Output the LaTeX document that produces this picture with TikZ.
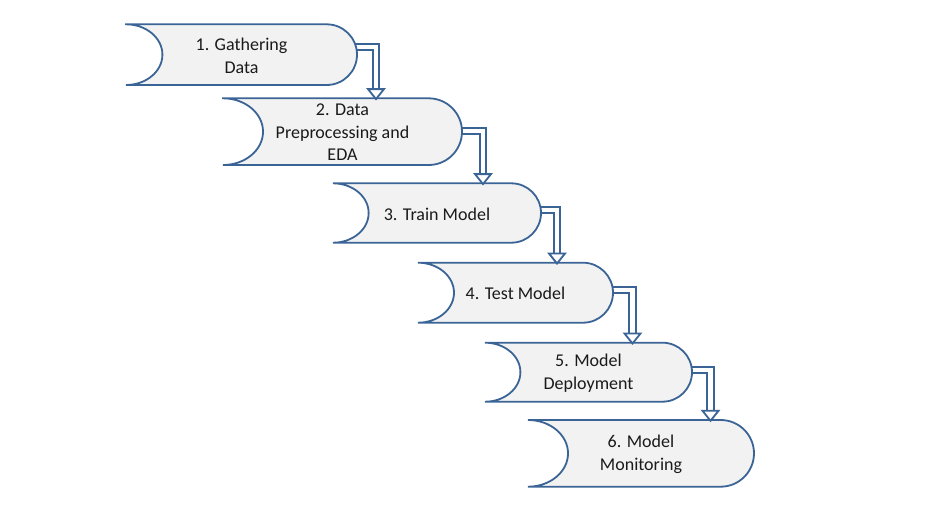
\documentclass[tikz,border=0pt]{standalone}
\usepackage{fontspec}
\setmainfont{Carlito}
\usetikzlibrary{backgrounds,calc}
\definecolor{edge}{HTML}{3B6496}
\definecolor{boxfill}{HTML}{F2F2F2}
\definecolor{ink}{HTML}{1A1A1A}
\tikzset{
  stepshape/.style={draw=edge, fill=boxfill, line width=1.8pt},
  steptext/.style={text=ink, align=center, inner sep=0pt, draw=none,
    font=\fontsize{18}{22.5}\selectfont},
  conn/.style={draw=edge, line width=1.8pt, double=white, double distance=4.6pt},
  headtip/.style={draw=edge, fill=white, line width=1.8pt, line join=miter},
}
% #1 name, #2 left, #3 right, #4 top, #5 bottom, #6 text
\newcommand\flowstep[6]{%
  \pgfmathsetmacro\hh{(#5-#4)/2}%
  \pgfmathsetmacro\dd{1.2*\hh}%
  \pgfmathsetmacro\rr{#3-\hh}%
  \draw[stepshape] (#2,-#4) -- (\rr,-#4)
     arc[start angle=90,end angle=-90,x radius=\hh pt,y radius=\hh pt]
     -- (#2,-#5)
     arc[start angle=-90,end angle=90,x radius=\dd pt,y radius=\hh pt] -- cycle;
  \node[steptext, minimum width={(#3-#2)*1pt}, minimum height={(#5-#4)*1pt}]
     (#1) at ({(#2+#3)/2},{-(#4+#5)/2-1}) {#6};
}
\begin{document}
\begin{tikzpicture}[x=1pt,y=1pt]
\useasboundingbox (0,0) rectangle (935,-504);
\flowstep{s1}{126}{357}{24.3}{85}{1. Gathering\\Data}
\flowstep{s2}{223}{462}{98.3}{165}{2. Data\\Preprocessing and\\EDA}
\flowstep{s3}{333}{541}{183.3}{242.7}{3. Train Model}
\flowstep{s4}{418}{613}{262.7}{322.7}{4. Test Model}
\flowstep{s5}{485}{692}{342.7}{401.7}{5. Model\\Deployment}
\flowstep{s6}{528}{754}{420}{486.7}{6. Model\\Monitoring}

\coordinate (t12) at (376,0 |- s2.north);
\coordinate (t23) at (483,0 |- s3.north);
\coordinate (t34) at (557,0 |- s4.north);
\coordinate (t45) at (632.5,0 |- s5.north);
\coordinate (t56) at (710.5,0 |- s6.north);

\begin{pgfonlayer}{background}
\draw[conn] ([xshift=-5pt,yshift=8.6pt]s1.east) -| ([yshift=9pt]t12);
\draw[conn] ([xshift=-5pt,yshift=1.6pt]s2.east) -| ([yshift=9pt]t23);
\draw[conn] ([xshift=-5pt,yshift=4pt]s3.east) -| ([yshift=9pt]t34);
\draw[conn] ([xshift=-5pt,yshift=3.7pt]s4.east) -| ([yshift=9pt]t45);
\draw[conn] ([xshift=-5pt,yshift=3.2pt]s5.east) -| ([yshift=9pt]t56);
\end{pgfonlayer}

\foreach \t in {t12,t23,t34,t45,t56}{
  \draw[headtip] (\t) -- ++(-8,10) -- ++(16,0) -- cycle;
}
\end{tikzpicture}
\end{document}
